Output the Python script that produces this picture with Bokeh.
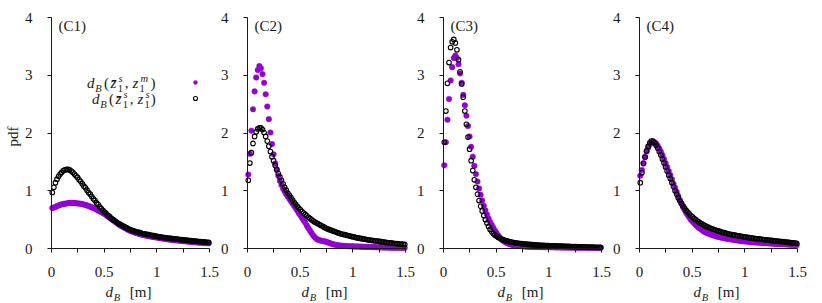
import math
from bokeh.plotting import figure
from bokeh.layouts import row
from bokeh.models import Range1d, FixedTicker, Label, Legend, LegendItem
from bokeh.core.properties import value
from bokeh.embed import file_html
from bokeh.resources import INLINE

# ---------------- data ----------------
# histogram bin centres of the Bhattacharyya distance d_B [m]
D_MIN, D_MAX, N_BINS = 0.0, 1.5, 100
BIN_W = (D_MAX - D_MIN) / N_BINS
d_B = [D_MIN + (i + 0.5) * BIN_W for i in range(N_BINS)]

panel_labels = ["(C1)", "(C2)", "(C3)", "(C4)"]
x_ticks = [0, 0.5, 1, 1.5]
x_minor_ticks = [0.25, 0.75, 1.25]
x_tick_labels = {0: "0", 0.5: "0.5", 1: "1", 1.5: "1.5"}
y_ticks = [0, 1, 2, 3, 4]

# pdf of d_B(zbar_1^s, z_1^m)  (purple dots)
pdf_m_c1 = [0.70, 0.71, 0.72, 0.735, 0.745, 0.755, 0.765, 0.77, 0.775, 0.78,
            0.785, 0.79, 0.79, 0.79, 0.79, 0.785, 0.78, 0.78, 0.775, 0.77,
            0.76, 0.755, 0.745, 0.735, 0.725, 0.715, 0.70, 0.69, 0.675, 0.66,
            0.645, 0.63, 0.615, 0.60, 0.58, 0.56, 0.54, 0.52, 0.50, 0.48,
            0.46, 0.44, 0.42, 0.40, 0.385, 0.37, 0.355, 0.34, 0.325, 0.31,
            0.30, 0.29, 0.28, 0.27, 0.26, 0.25, 0.245, 0.24, 0.23, 0.225,
            0.22, 0.215, 0.21, 0.205, 0.20, 0.195, 0.19, 0.185, 0.18, 0.176,
            0.172, 0.168, 0.164, 0.16, 0.156, 0.152, 0.149, 0.146, 0.143, 0.14,
            0.137, 0.134, 0.131, 0.128, 0.125, 0.122, 0.12, 0.117, 0.114, 0.112,
            0.11, 0.107, 0.105, 0.102, 0.10, 0.098, 0.096, 0.094, 0.092, 0.09]
pdf_m_c2 = [1.28, 1.64, 2.04, 2.41, 2.72, 2.96, 3.09, 3.16, 3.12, 3.02,
            2.87, 2.67, 2.46, 2.24, 2.01, 1.81, 1.63, 1.47, 1.36, 1.26,
            1.17, 1.10, 1.04, 0.99, 0.94, 0.90, 0.86, 0.82, 0.78, 0.74,
            0.70, 0.66, 0.61, 0.57, 0.53, 0.49, 0.45, 0.40, 0.355, 0.31,
            0.27, 0.23, 0.20, 0.17, 0.155, 0.145, 0.135, 0.13, 0.125, 0.12,
            0.11, 0.10, 0.09, 0.08, 0.072, 0.065, 0.06, 0.055, 0.05, 0.048,
            0.046, 0.044, 0.042, 0.04, 0.039, 0.038, 0.037, 0.036, 0.035, 0.034,
            0.033, 0.032, 0.031, 0.03, 0.029, 0.028, 0.027, 0.026, 0.025, 0.024,
            0.023, 0.022, 0.021, 0.02, 0.02, 0.019, 0.018, 0.018, 0.017, 0.016,
            0.016, 0.015, 0.015, 0.014, 0.014, 0.013, 0.013, 0.012, 0.012, 0.011]
pdf_m_c3 = [1.44, 1.84, 2.23, 2.59, 2.91, 3.14, 3.30, 3.34, 3.30, 3.19,
            3.03, 2.87, 2.66, 2.48, 2.30, 2.12, 1.94, 1.76, 1.59, 1.43,
            1.29, 1.16, 1.04, 0.93, 0.83, 0.74, 0.66, 0.59, 0.52, 0.46,
            0.41, 0.36, 0.31, 0.27, 0.23, 0.195, 0.165, 0.14, 0.12, 0.105,
            0.09, 0.08, 0.07, 0.063, 0.057, 0.052, 0.048, 0.045, 0.042, 0.04,
            0.038, 0.036, 0.034, 0.032, 0.031, 0.03, 0.029, 0.028, 0.027, 0.026,
            0.025, 0.025, 0.024, 0.024, 0.023, 0.023, 0.022, 0.022, 0.021, 0.021,
            0.02, 0.02, 0.019, 0.019, 0.018, 0.018, 0.018, 0.017, 0.017, 0.017,
            0.016, 0.016, 0.016, 0.015, 0.015, 0.015, 0.014, 0.014, 0.014, 0.014,
            0.013, 0.013, 0.013, 0.013, 0.012, 0.012, 0.012, 0.012, 0.012, 0.011]
pdf_m_c4 = [1.26, 1.36, 1.48, 1.59, 1.68, 1.75, 1.80, 1.83, 1.84, 1.84,
            1.82, 1.78, 1.73, 1.68, 1.62, 1.55, 1.48, 1.41, 1.34, 1.27,
            1.20, 1.12, 1.05, 0.98, 0.91, 0.84, 0.78, 0.72, 0.67, 0.62,
            0.58, 0.54, 0.50, 0.47, 0.44, 0.41, 0.385, 0.36, 0.34, 0.32,
            0.30, 0.285, 0.27, 0.26, 0.25, 0.24, 0.23, 0.22, 0.21, 0.205,
            0.20, 0.19, 0.185, 0.18, 0.175, 0.17, 0.165, 0.16, 0.155, 0.15,
            0.146, 0.142, 0.138, 0.134, 0.13, 0.127, 0.124, 0.121, 0.118, 0.115,
            0.112, 0.11, 0.108, 0.106, 0.104, 0.102, 0.10, 0.098, 0.096, 0.094,
            0.092, 0.09, 0.088, 0.086, 0.084, 0.082, 0.08, 0.079, 0.078, 0.076,
            0.075, 0.073, 0.072, 0.07, 0.069, 0.067, 0.066, 0.064, 0.063, 0.062]

# pdf of d_B(zbar_1^s, z_1^s)  (black open circles)
pdf_s_c1 = [0.97, 1.06, 1.14, 1.20, 1.25, 1.29, 1.32, 1.35, 1.36, 1.37,
            1.37, 1.36, 1.34, 1.32, 1.29, 1.26, 1.23, 1.19, 1.16, 1.12,
            1.08, 1.05, 1.01, 0.97, 0.94, 0.90, 0.86, 0.83, 0.79, 0.76,
            0.72, 0.69, 0.66, 0.63, 0.61, 0.58, 0.56, 0.53, 0.51, 0.49,
            0.47, 0.45, 0.43, 0.42, 0.40, 0.39, 0.37, 0.36, 0.34, 0.33,
            0.32, 0.31, 0.30, 0.29, 0.285, 0.28, 0.27, 0.26, 0.255, 0.25,
            0.245, 0.24, 0.234, 0.228, 0.222, 0.217, 0.212, 0.207, 0.202, 0.198,
            0.194, 0.19, 0.186, 0.182, 0.178, 0.174, 0.171, 0.168, 0.165, 0.162,
            0.159, 0.156, 0.153, 0.15, 0.147, 0.144, 0.141, 0.138, 0.135, 0.132,
            0.129, 0.126, 0.123, 0.12, 0.118, 0.115, 0.113, 0.11, 0.108, 0.105]
pdf_s_c2 = [1.18, 1.48, 1.66, 1.82, 1.94, 2.02, 2.07, 2.09, 2.09, 2.06,
            2.01, 1.94, 1.86, 1.77, 1.68, 1.59, 1.52, 1.44, 1.37, 1.30,
            1.24, 1.18, 1.12, 1.06, 1.01, 0.96, 0.92, 0.88, 0.84, 0.80,
            0.765, 0.73, 0.70, 0.67, 0.64, 0.615, 0.59, 0.565, 0.54, 0.52,
            0.50, 0.48, 0.46, 0.445, 0.43, 0.415, 0.40, 0.385, 0.37, 0.355,
            0.34, 0.33, 0.32, 0.31, 0.30, 0.29, 0.28, 0.27, 0.26, 0.25,
            0.245, 0.24, 0.23, 0.225, 0.22, 0.21, 0.205, 0.20, 0.19, 0.185,
            0.18, 0.175, 0.17, 0.165, 0.16, 0.155, 0.15, 0.146, 0.142, 0.138,
            0.134, 0.13, 0.126, 0.122, 0.118, 0.114, 0.11, 0.106, 0.102, 0.099,
            0.096, 0.093, 0.09, 0.087, 0.084, 0.081, 0.078, 0.075, 0.072, 0.07]
pdf_s_c3 = [1.84, 2.38, 2.86, 3.22, 3.48, 3.58, 3.62, 3.56, 3.44, 3.27,
            3.06, 2.85, 2.62, 2.38, 2.15, 1.93, 1.72, 1.52, 1.35, 1.19,
            1.06, 0.94, 0.83, 0.73, 0.65, 0.57, 0.50, 0.44, 0.38, 0.33,
            0.29, 0.26, 0.235, 0.215, 0.195, 0.18, 0.165, 0.155, 0.145, 0.135,
            0.128, 0.12, 0.114, 0.108, 0.103, 0.098, 0.094, 0.09, 0.087, 0.084,
            0.081, 0.078, 0.075, 0.072, 0.07, 0.068, 0.066, 0.064, 0.062, 0.06,
            0.058, 0.056, 0.055, 0.053, 0.052, 0.05, 0.049, 0.048, 0.047, 0.046,
            0.045, 0.044, 0.043, 0.042, 0.041, 0.04, 0.039, 0.038, 0.037, 0.036,
            0.035, 0.034, 0.033, 0.032, 0.031, 0.03, 0.029, 0.028, 0.028, 0.027,
            0.026, 0.025, 0.025, 0.024, 0.023, 0.022, 0.022, 0.021, 0.02, 0.02]
pdf_s_c4 = [1.14, 1.31, 1.47, 1.58, 1.69, 1.77, 1.83, 1.86, 1.86, 1.83,
            1.79, 1.74, 1.68, 1.62, 1.55, 1.48, 1.41, 1.34, 1.27, 1.21,
            1.14, 1.07, 1.00, 0.94, 0.88, 0.83, 0.78, 0.74, 0.70, 0.66,
            0.63, 0.60, 0.57, 0.55, 0.52, 0.50, 0.48, 0.46, 0.44, 0.425,
            0.41, 0.395, 0.38, 0.37, 0.355, 0.345, 0.335, 0.325, 0.315, 0.305,
            0.30, 0.29, 0.28, 0.275, 0.265, 0.26, 0.25, 0.245, 0.24, 0.235,
            0.23, 0.225, 0.22, 0.215, 0.21, 0.205, 0.20, 0.196, 0.192, 0.188,
            0.184, 0.18, 0.176, 0.172, 0.168, 0.165, 0.161, 0.158, 0.154, 0.151,
            0.148, 0.145, 0.142, 0.139, 0.136, 0.133, 0.13, 0.127, 0.124, 0.121,
            0.118, 0.115, 0.112, 0.109, 0.106, 0.103, 0.10, 0.097, 0.094, 0.09]

series_m = [pdf_m_c1, pdf_m_c2, pdf_m_c3, pdf_m_c4]
series_s = [pdf_s_c1, pdf_s_c2, pdf_s_c3, pdf_s_c4]

# ---------------- style / layout ----------------
FONT = "'Liberation Serif', serif"
MAIN = 15
SCRIPT = 10.5
PURPLE = "#9400D3"
INK = "#1a1a1a"
X_MIN, X_MAX, Y_MIN, Y_MAX = 0.0, 1.5, 0.0, 4.0

# page-pixel layout of the four panels (canvas edges and axis origin)
CANVAS_L = [0, 219, 415, 611]
CANVAS_R = [219, 415, 611, 811]
AXIS_X0 = [51, 247, 443, 639]          # px of d_B = 0
AXIS_W = 158                           # px from d_B = 0 to 1.5
Y0_PX, Y4_PX = 248, 17                 # px of pdf = 0 and pdf = 4
CANVAS_H = 303
PX_X = AXIS_W / (X_MAX - X_MIN)
PX_Y = (Y0_PX - Y4_PX) / (Y_MAX - Y_MIN)
BASELINE_FIX = {"alphabetic": -5.0, "middle": 3.0}   # rendering offset, px


def put_text(p, text, dx, dy, size=MAIN, style="normal", align="left",
             baseline="alphabetic", angle=0.0):
    """dx: px right of the d_B = 0 axis, dy: px below the pdf = 4 level."""
    dy = dy + BASELINE_FIX.get(baseline, 0.0) * (size / MAIN)
    p.add_layout(Label(x=X_MIN + dx / PX_X, y=Y_MAX - dy / PX_Y, text=text,
                       text_font=FONT, text_font_size=f"{size}px",
                       text_font_style=style, text_align=align,
                       text_baseline=baseline, angle=angle, text_color=INK))


def put_dB(p, x0, base):
    put_text(p, "d", x0, base, MAIN, "italic")
    put_text(p, "B", x0 + 8.3, base + 3.5, SCRIPT, "italic")


def put_legend_text(p, x0, base, sup2):
    put_dB(p, x0, base)
    put_text(p, "(", x0 + 17.0, base)
    put_text(p, "z\u0304", x0 + 23.6, base, MAIN, "italic")
    put_text(p, "1", x0 + 30.8, base + 3.5, SCRIPT)
    put_text(p, "s", x0 + 31.6, base - 6.5, SCRIPT, "italic")
    put_text(p, ",", x0 + 37.8, base)
    put_text(p, "z", x0 + 45.6, base, MAIN, "italic")
    put_text(p, "1", x0 + 52.6, base + 3.5, SCRIPT)
    put_text(p, sup2, x0 + 53.4, base - 6.5, SCRIPT, "italic")
    put_text(p, ")", x0 + (63.4 if sup2 == "m" else 58.8), base)


def make_panel(k):
    width = CANVAS_R[k] - CANVAS_L[k]
    x_lo = X_MIN - (AXIS_X0[k] - CANVAS_L[k]) / PX_X
    x_hi = X_MIN + (CANVAS_R[k] - AXIS_X0[k]) / PX_X
    y_lo = Y_MIN - (CANVAS_H - Y0_PX) / PX_Y
    y_hi = Y_MIN + Y0_PX / PX_Y
    p = figure(width=width, height=CANVAS_H,
               x_range=Range1d(x_lo, x_hi), y_range=Range1d(y_lo, y_hi),
               output_backend="svg", toolbar_location=None,
               min_border=0, min_border_left=0, min_border_right=0,
               min_border_top=0, min_border_bottom=0)
    p.outline_line_color = None
    p.grid.grid_line_color = None
    p.background_fill_color = "white"
    p.border_fill_color = "white"

    xa, ya = p.xaxis[0], p.yaxis[0]
    xa.fixed_location = Y_MIN
    ya.fixed_location = X_MIN
    xa.bounds = (X_MIN, X_MAX)
    ya.bounds = (Y_MIN, Y_MAX)
    xa.ticker = FixedTicker(ticks=x_ticks, minor_ticks=x_minor_ticks)
    xa.major_label_overrides = dict(x_tick_labels)
    ya.ticker = FixedTicker(ticks=y_ticks)
    for ax in (xa, ya):
        ax.axis_line_color = INK
        ax.axis_line_width = 1
        ax.major_tick_line_color = INK
        ax.minor_tick_line_color = INK
        ax.major_tick_in = 0
        ax.major_tick_out = 4
        ax.minor_tick_in = 0
        ax.minor_tick_out = 4
        ax.major_label_text_font = FONT
        ax.major_label_text_font_size = f"{MAIN}px"
        ax.major_label_text_color = INK
    xa.major_label_standoff = 14
    ya.major_label_standoff = 15

    r_m = p.scatter(d_B, series_m[k], marker="circle", size=5.6,
                    fill_color=PURPLE, line_color=PURPLE, line_width=0.4)
    r_s = p.scatter(d_B, series_s[k], marker="circle", size=4.6,
                    fill_alpha=0, line_color="black", line_width=1.1)

    # panel tag
    put_text(p, panel_labels[k], 7, 5.5, MAIN, baseline="middle")
    # x axis label  d_B [m]
    put_dB(p, 54, 279.5)
    put_text(p, "[m]", 78.3, 279.5)

    if k == 0:
        put_text(p, "pdf", -38.5, 116, MAIN, align="center", baseline="middle",
                 angle=math.pi / 2)
        put_legend_text(p, 35.5, 70.5, "m")
        put_legend_text(p, 40.5, 86.5, "s")
        leg_left_px, leg_bottom_px = 190, 106
        legend = Legend(items=[LegendItem(label=value(" "), renderers=[r_m]),
                               LegendItem(label=value(" "), renderers=[r_s])],
                        location=(leg_left_px - CANVAS_L[0], CANVAS_H - leg_bottom_px),
                        orientation="vertical",
                        padding=0, margin=0, spacing=0,
                        glyph_width=10, glyph_height=16,
                        label_width=0, label_height=16, label_standoff=0,
                        label_text_font_size="1px",
                        border_line_alpha=0, background_fill_alpha=0)
        p.add_layout(legend)
    return p


panels = [make_panel(k) for k in range(4)]
layout = row(*panels, spacing=0)

open("out.html", "w").write(file_html(layout, INLINE, "pdf of d_B"))
